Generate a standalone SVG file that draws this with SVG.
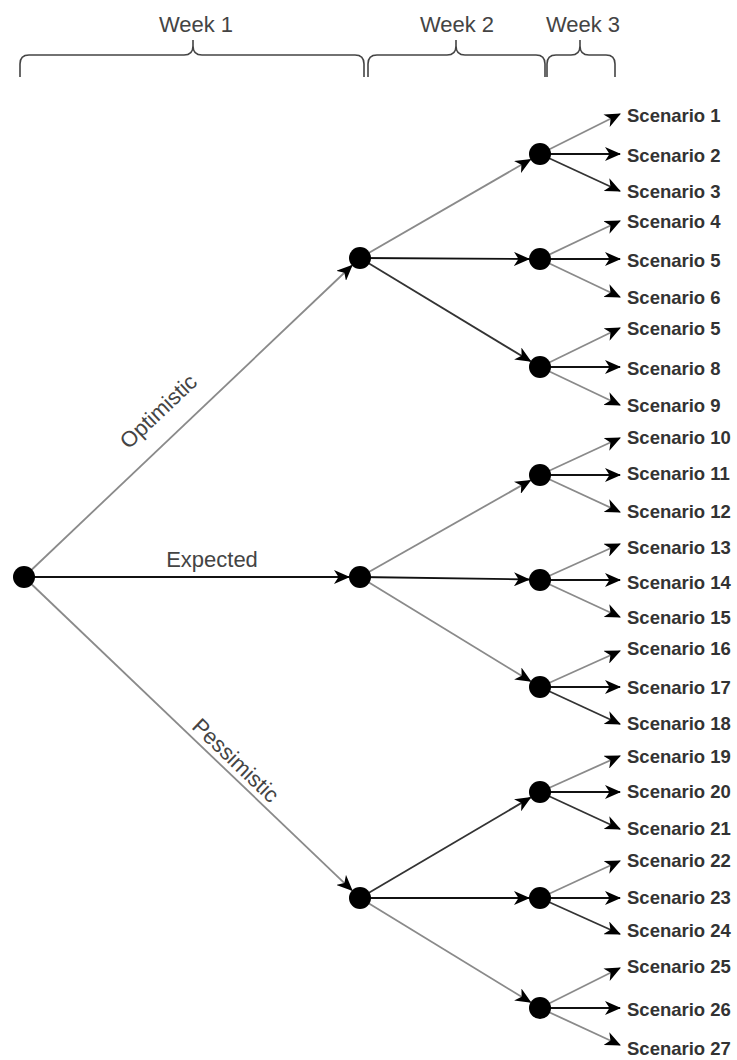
<svg xmlns="http://www.w3.org/2000/svg" width="737" height="1060" viewBox="0 0 737 1060">
<style>
.lbl{font-family:"Liberation Sans",Arial,sans-serif;font-size:22px;fill:#444}
.sc{font-family:"Liberation Sans",Arial,sans-serif;font-size:18.5px;font-weight:bold;fill:#333}
.br{fill:none;stroke:#444;stroke-width:1.6}
.e{fill:none;stroke-width:1.8;marker-end:url(#ah)}
.k{stroke:#111}
.d{stroke:#333}
.g{stroke:#8a8a8a}
.node{fill:#000}
</style>
<defs>
<marker id="ah" markerUnits="userSpaceOnUse" markerWidth="16" markerHeight="14" viewBox="0 0 16 14" refX="15" refY="7" orient="auto">
<path d="M0,0 L16,7 L0,14 L4.5,7 Z" fill="#000"/>
</marker>
</defs>
<rect width="737" height="1060" fill="#fff"/>
<g id="weeks">
<text class="lbl" x="196" y="32" text-anchor="middle">Week 1</text>
<text class="lbl" x="457" y="32" text-anchor="middle">Week 2</text>
<text class="lbl" x="583" y="32" text-anchor="middle">Week 3</text>
<path class="br" d="M20,77 V64 Q20,55 29,55 H184 Q193,55 193,46 V40 M193,46 Q193,55 202,55 H355 Q364,55 364,64 V77"/>
<path class="br" d="M368,77 V64 Q368,55 377,55 H447 Q456,55 456,46 V40 M456,46 Q456,55 465,55 H536 Q545,55 545,64 V77"/>
<path class="br" d="M547,77 V64 Q547,55 556,55 H571 Q580,55 580,46 V40 M580,46 Q580,55 589,55 H606 Q615,55 615,64 V77"/>
</g>
<g id="connectors">
<line class="e g" x1="24" y1="577" x2="352" y2="265.5"/>
<line class="e k" x1="24" y1="577" x2="349" y2="577"/>
<line class="e g" x1="24" y1="577" x2="352" y2="890.3"/>
<line class="e g" x1="360" y1="258" x2="530.5" y2="159.5"/>
<line class="e k" x1="360" y1="258" x2="529" y2="259"/>
<line class="e d" x1="360" y1="258" x2="530.6" y2="361.3"/>
<line class="e g" x1="360" y1="577" x2="530.4" y2="480.4"/>
<line class="e k" x1="360" y1="577" x2="529" y2="579.5"/>
<line class="e g" x1="360" y1="577" x2="530.6" y2="681.3"/>
<line class="e d" x1="360" y1="898" x2="530.5" y2="797.6"/>
<line class="e k" x1="360" y1="898" x2="529" y2="898"/>
<line class="e g" x1="360" y1="898" x2="530.6" y2="1002.3"/>
<line class="e g" x1="540" y1="154" x2="620" y2="114"/>
<line class="e k" x1="540" y1="154" x2="620" y2="154"/>
<line class="e d" x1="540" y1="154" x2="620" y2="191"/>
<line class="e g" x1="540" y1="259" x2="620" y2="221"/>
<line class="e k" x1="540" y1="259" x2="620" y2="259"/>
<line class="e g" x1="540" y1="259" x2="620" y2="297"/>
<line class="e g" x1="540" y1="367" x2="620" y2="328"/>
<line class="e k" x1="540" y1="367" x2="620" y2="367"/>
<line class="e g" x1="540" y1="367" x2="620" y2="405"/>
<line class="e g" x1="540" y1="475" x2="620" y2="438"/>
<line class="e k" x1="540" y1="475" x2="620" y2="475"/>
<line class="e g" x1="540" y1="475" x2="620" y2="512"/>
<line class="e g" x1="540" y1="580" x2="620" y2="544"/>
<line class="e k" x1="540" y1="580" x2="620" y2="580"/>
<line class="e g" x1="540" y1="580" x2="620" y2="617"/>
<line class="e g" x1="540" y1="687" x2="620" y2="651"/>
<line class="e k" x1="540" y1="687" x2="620" y2="687"/>
<line class="e d" x1="540" y1="687" x2="620" y2="724"/>
<line class="e g" x1="540" y1="792" x2="620" y2="756"/>
<line class="e k" x1="540" y1="792" x2="620" y2="792"/>
<line class="e d" x1="540" y1="792" x2="620" y2="829"/>
<line class="e g" x1="540" y1="898" x2="620" y2="861"/>
<line class="e k" x1="540" y1="898" x2="620" y2="898"/>
<line class="e d" x1="540" y1="898" x2="620" y2="934"/>
<line class="e g" x1="540" y1="1008" x2="620" y2="968"/>
<line class="e k" x1="540" y1="1008" x2="620" y2="1008"/>
<line class="e g" x1="540" y1="1008" x2="620" y2="1045"/>
</g>
<g id="edge-labels">
<text class="lbl" transform="translate(158,411) rotate(-43.5)" x="0" y="8" text-anchor="middle">Optimistic</text>
<text class="lbl" x="212" y="567" text-anchor="middle">Expected</text>
<text class="lbl" transform="translate(236,760) rotate(43.8)" x="0" y="8" text-anchor="middle">Pessimistic</text>
</g>
<g id="root"><circle class="node" cx="24" cy="577" r="11"/></g>
<g id="n-opt"><circle class="node" cx="360" cy="258" r="11"/></g>
<g id="n-exp"><circle class="node" cx="360" cy="577" r="11"/></g>
<g id="n-pes"><circle class="node" cx="360" cy="898" r="11"/></g>
<g id="n-o1"><circle class="node" cx="540" cy="154" r="11"/></g>
<g id="n-o2"><circle class="node" cx="540" cy="259" r="11"/></g>
<g id="n-o3"><circle class="node" cx="540" cy="367" r="11"/></g>
<g id="n-e1"><circle class="node" cx="540" cy="475" r="11"/></g>
<g id="n-e2"><circle class="node" cx="540" cy="580" r="11"/></g>
<g id="n-e3"><circle class="node" cx="540" cy="687" r="11"/></g>
<g id="n-p1"><circle class="node" cx="540" cy="792" r="11"/></g>
<g id="n-p2"><circle class="node" cx="540" cy="898" r="11"/></g>
<g id="n-p3"><circle class="node" cx="540" cy="1008" r="11"/></g>
<g id="scenarios">
<text class="sc" x="627" y="122">Scenario 1</text>
<text class="sc" x="627" y="162">Scenario 2</text>
<text class="sc" x="627" y="198">Scenario 3</text>
<text class="sc" x="627" y="228">Scenario 4</text>
<text class="sc" x="627" y="267">Scenario 5</text>
<text class="sc" x="627" y="304">Scenario 6</text>
<text class="sc" x="627" y="335">Scenario 5</text>
<text class="sc" x="627" y="375">Scenario 8</text>
<text class="sc" x="627" y="412">Scenario 9</text>
<text class="sc" x="627" y="444">Scenario 10</text>
<text class="sc" x="627" y="480">Scenario 11</text>
<text class="sc" x="627" y="518">Scenario 12</text>
<text class="sc" x="627" y="554">Scenario 13</text>
<text class="sc" x="627" y="589">Scenario 14</text>
<text class="sc" x="627" y="624">Scenario 15</text>
<text class="sc" x="627" y="655">Scenario 16</text>
<text class="sc" x="627" y="694">Scenario 17</text>
<text class="sc" x="627" y="730">Scenario 18</text>
<text class="sc" x="627" y="763">Scenario 19</text>
<text class="sc" x="627" y="798">Scenario 20</text>
<text class="sc" x="627" y="835">Scenario 21</text>
<text class="sc" x="627" y="867">Scenario 22</text>
<text class="sc" x="627" y="904">Scenario 23</text>
<text class="sc" x="627" y="937">Scenario 24</text>
<text class="sc" x="627" y="973">Scenario 25</text>
<text class="sc" x="627" y="1016">Scenario 26</text>
<text class="sc" x="627" y="1055">Scenario 27</text>
</g>
</svg>
